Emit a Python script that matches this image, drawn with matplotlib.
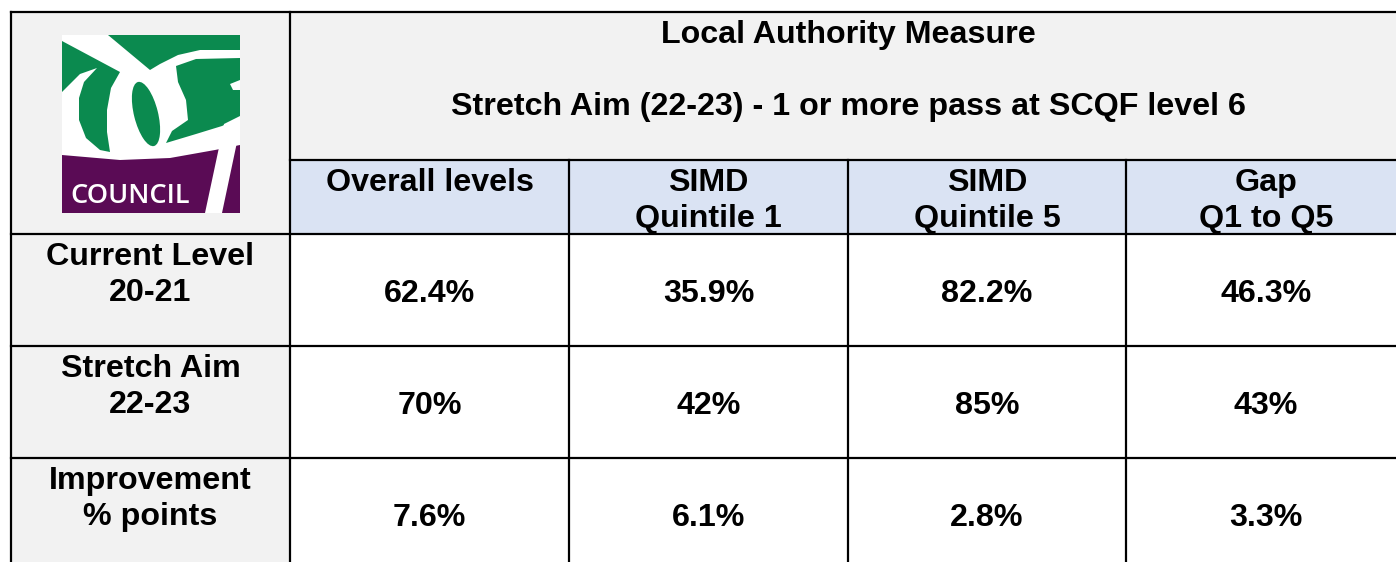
import matplotlib
matplotlib.use("Agg")
import matplotlib.pyplot as plt
from matplotlib.patches import Rectangle, Ellipse, Polygon

# ---- data ----
title_lines = ["Local Authority Measure", "", "Stretch Aim (22-23) - 1 or more pass at SCQF level 6"]
columns = ["Overall levels", "SIMD\nQuintile 1", "SIMD\nQuintile 5", "Gap\nQ1 to Q5"]
row_labels = ["Current Level\n20-21", "Stretch Aim\n22-23", "Improvement\n% points"]
current_level = ["62.4%", "35.9%", "82.2%", "46.3%"]
stretch_aim = ["70%", "42%", "85%", "43%"]
improvement = ["7.6%", "6.1%", "2.8%", "3.3%"]
values = [current_level, stretch_aim, improvement]
logo_text = "COUNCIL"

# ---- layout ----
W, H = 1396, 562
col_edges = [11, 290, 569, 848, 1126, 1406]
row_edges = [12, 160, 234, 346, 458, 570]
GREY = "#f2f2f2"
BLUE = "#dae3f3"
FONT = "Liberation Sans"
FS = 23.2
STEP = 36

fig = plt.figure(figsize=(W / 100, H / 100), dpi=100)
ax = fig.add_axes([0, 0, 1, 1])
ax.set_xlim(0, W)
ax.set_ylim(H, 0)
ax.axis("off")

# backgrounds
ax.add_patch(Rectangle((col_edges[0], row_edges[0]), col_edges[1] - col_edges[0],
                       row_edges[-1] - row_edges[0], fc=GREY, ec="none", zorder=0))
ax.add_patch(Rectangle((col_edges[1], row_edges[0]), col_edges[-1] - col_edges[1],
                       row_edges[1] - row_edges[0], fc=GREY, ec="none", zorder=0))
ax.add_patch(Rectangle((col_edges[1], row_edges[1]), col_edges[-1] - col_edges[1],
                       row_edges[2] - row_edges[1], fc=BLUE, ec="none", zorder=0))

# grid lines
lw = 1.6
kw = dict(color="black", lw=lw, solid_capstyle="projecting")
ax.plot([col_edges[0], W], [row_edges[0]] * 2, **kw)
ax.plot([col_edges[1], W], [row_edges[1]] * 2, **kw)
for y in row_edges[2:5]:
    ax.plot([col_edges[0], W], [y, y], **kw)
ax.plot([col_edges[0]] * 2, [row_edges[0], H], **kw)
ax.plot([col_edges[1]] * 2, [row_edges[0], H], **kw)
for x in col_edges[2:5]:
    ax.plot([x, x], [row_edges[1], H], **kw)


def put(text, cx, first_baseline):
    for i, line in enumerate(text.split("\n")):
        if line:
            ax.text(cx, first_baseline + i * STEP, line, ha="center", va="baseline",
                    fontsize=FS, fontweight="bold", family=FONT, color="black")


# title
tcx = (col_edges[1] + col_edges[-1]) / 2
put("\n".join(title_lines), tcx, 43)

# header
for j, c in enumerate(columns):
    cx = (col_edges[j + 1] + col_edges[j + 2]) / 2
    put(c, cx, row_edges[1] + 31)

# rows
for i, lab in enumerate(row_labels):
    top = row_edges[i + 2]
    put(lab, (col_edges[0] + col_edges[1]) / 2, top + 31)
    mid = (row_edges[i + 2] + row_edges[i + 3]) / 2
    for j, v in enumerate(values[i]):
        cx = (col_edges[j + 1] + col_edges[j + 2]) / 2
        put(v, cx, mid + 12.5)

# ---- logo (approximation) ----
lx0, ly0, lx1, ly1 = 62, 35, 240, 213
GREEN = "#0b8a4f"
PURPLE = "#5a0b55"
clip = Rectangle((lx0, ly0), lx1 - lx0, ly1 - ly0, transform=ax.transData)
patches = [
    Rectangle((lx0, ly0), lx1 - lx0, 125, fc="white", ec="none"),
    # top-left green wedge + left crescent
    Polygon([(62, 41), (120, 72), (111, 88), (107, 110), (107, 132), (110, 152),
             (100, 150), (86, 138), (79, 120), (79, 98), (84, 82), (97, 68),
             (80, 74), (62, 92)], fc=GREEN, ec="none"),
    # top-right green
    Polygon([(108, 35), (240, 35), (240, 50), (200, 50), (178, 55), (160, 64), (150, 70)],
            fc=GREEN, ec="none"),
    # inner lens
    Ellipse((146, 114), 24, 66, angle=-14, fc=GREEN, ec="none"),
    # G body
    Polygon([(176, 66), (196, 59), (240, 58), (240, 80), (230, 84), (233, 90), (240, 90),
             (240, 118), (222, 126), (196, 134), (166, 143), (172, 131), (188, 120),
             (186, 100), (178, 82)], fc=GREEN, ec="none"),
    # purple band
    Polygon([(62, 155), (120, 160), (170, 158), (215, 150), (240, 145), (240, 213), (62, 213)],
            fc=PURPLE, ec="none"),
    # white 7 stroke
    Polygon([(224, 124), (240, 116), (240, 128), (222, 213), (205, 213)], fc="white", ec="none"),
]
for p in patches:
    p.set_zorder(2)
    ax.add_patch(p)
    p.set_clip_path(clip)
ax.text(130, 203, logo_text, ha="center", va="baseline", fontsize=19.5,
        family="Open Sans", fontweight="semibold", color="white", zorder=3)

fig.savefig("out.png", dpi=100)
